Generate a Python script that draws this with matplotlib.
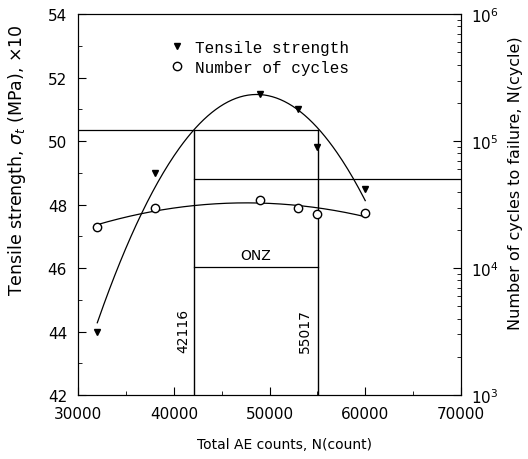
import numpy as np
import matplotlib.pyplot as plt
from matplotlib.ticker import MultipleLocator, LogLocator, NullFormatter

# data
ae_counts = [32000, 38000, 49000, 53000, 55000, 60000]
tensile = [44.0, 49.0, 51.5, 51.0, 49.8, 48.5]          # MPa x10
cycles = [21100, 29900, 34500, 29900, 26600, 27400]       # cycles to failure
onz_lo, onz_hi = 42116, 55017
strength_level = 50.35
cycle_level = 50000
onz_level = 46.05

fig = plt.figure(figsize=(5.28, 4.6), dpi=100)
ax = fig.add_axes([0.148, 0.139, 0.725, 0.828])
ax2 = ax.twinx()

# fitted curves
xs = np.linspace(ae_counts[0], ae_counts[-1], 200)
ts_fit = np.polyval(np.polyfit(ae_counts, tensile, 2), xs)
cy_fit = 10 ** np.polyval(np.polyfit(ae_counts, np.log10(cycles), 2), xs)

ax.plot(xs, ts_fit, color="black", linewidth=0.9)
ax.plot(ae_counts, tensile, linestyle="none", marker="v", color="black",
        markersize=5, label="Tensile strength")
ax2.plot(xs, cy_fit, color="black", linewidth=0.9)
ax2.plot(ae_counts, cycles, linestyle="none", marker="o", mfc="white",
         mec="black", markersize=6, label="Number of cycles")

# optimum zone guide lines
ax.plot([30000, onz_hi], [strength_level, strength_level], color="black", linewidth=0.9)
ax.plot([onz_lo, onz_lo], [42, strength_level], color="black", linewidth=1.0)
ax.plot([onz_hi, onz_hi], [42, strength_level], color="black", linewidth=1.0)
ax.plot([onz_lo, onz_hi], [onz_level, onz_level], color="black", linewidth=0.9)
ax2.plot([onz_lo, 70000], [cycle_level, cycle_level], color="black", linewidth=0.9)

ax.text((onz_lo + onz_hi) / 2, onz_level + 0.15, "ONZ", ha="center", va="bottom", fontsize=10)
ax.text(onz_lo - 350, 44.05, str(onz_lo), rotation=90, ha="right", va="center", fontsize=10)
ax.text(onz_hi - 550, 44.05, str(onz_hi), rotation=90, ha="right", va="center", fontsize=10)

ax.set_xlim(30000, 70000)
ax.set_ylim(42, 54)
ax2.set_yscale("log")
ax2.set_ylim(1e3, 1e6)

ax.xaxis.set_major_locator(MultipleLocator(10000))
ax.xaxis.set_minor_locator(MultipleLocator(5000))
ax.yaxis.set_major_locator(MultipleLocator(2))
ax.yaxis.set_minor_locator(MultipleLocator(1))
ax2.yaxis.set_major_locator(LogLocator(base=10))
ax2.yaxis.set_minor_locator(LogLocator(base=10, subs=np.arange(2, 10)))
ax2.yaxis.set_minor_formatter(NullFormatter())

ax.tick_params(direction="in", which="both", labelsize=11, top=False)
ax.tick_params(which="major", length=6)
ax.tick_params(which="minor", length=3)
ax.tick_params(axis="x", pad=8)
ax.tick_params(axis="y", pad=8)
ax2.tick_params(direction="in", which="both", labelsize=11, pad=7)
ax2.tick_params(which="major", length=6)
ax2.tick_params(which="minor", length=3)

ax.set_xlabel("Total AE counts, N(count)", fontsize=10)
ax.xaxis.set_label_coords(0.538, -0.11)
ax.set_ylabel(r"Tensile strength, $\sigma_t$ (MPa), $\times$10", fontsize=12.5)
ax.yaxis.set_label_coords(-0.13, 0.62)
ax2.set_ylabel("Number of cycles to failure, N(cycle)", fontsize=11.5)
ax2.yaxis.set_label_coords(1.122, 0.56)

h1, l1 = ax.get_legend_handles_labels()
h2, l2 = ax2.get_legend_handles_labels()
ax2.legend(h1 + h2, l1 + l2, loc="upper left", bbox_to_anchor=(0.2, 0.97),
           frameon=False, handletextpad=0.6, handlelength=1.0, labelspacing=0.3,
           prop={"family": "Liberation Mono", "size": 11.5})

fig.savefig("out.png", dpi=100)
